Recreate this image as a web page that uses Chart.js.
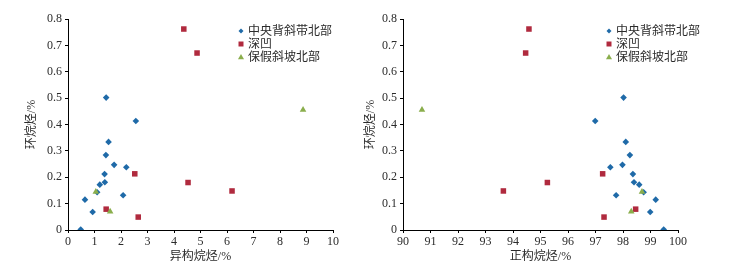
<!DOCTYPE html>
<html>
<head>
<meta charset="utf-8">
<script src="https://cdn.jsdelivr.net/npm/chart.js@4.4.0/dist/chart.umd.min.js"></script>
<style>
  html, body { margin: 0; padding: 0; background: #fff; }
  #wrap { position: relative; width: 747px; height: 274px; overflow: hidden; }
  #c1 { position: absolute; left: 0; top: 0; }
  #c2 { position: absolute; left: 355px; top: 0; }
</style>
</head>
<body>
<div id="wrap">
  <canvas id="c1" width="370" height="274"></canvas>
  <canvas id="c2" width="392" height="274"></canvas>
</div>
<script>
// series names
const seriesNames = ['中央背斜带北部', '深凹', '保假斜坡北部'];

// 中央背斜带北部
const centralIso = [0.48, 0.64, 0.93, 1.1, 1.2, 1.39, 1.38, 1.43, 1.44, 1.53, 1.74, 2.2, 2.08, 2.56];
const centralNormal = [99.48, 99.19, 98.99, 98.75, 98.59, 98.4, 98.36, 98.25, 98.02, 98.1, 97.98, 97.54, 97.75, 96.99];
const centralCyclo = [0.002, 0.115, 0.068, 0.143, 0.172, 0.181, 0.212, 0.284, 0.502, 0.334, 0.247, 0.238, 0.132, 0.413];

// 深凹
const deepIso = [4.37, 4.87, 2.52, 4.53, 6.19, 1.44, 2.65];
const deepNormal = [94.58, 94.46, 97.26, 95.25, 93.65, 98.46, 97.31];
const deepCyclo = [0.762, 0.671, 0.213, 0.18, 0.148, 0.079, 0.049];

// 保假斜坡北部
const slopeIso = [1.05, 1.59, 8.87];
const slopeNormal = [98.69, 98.3, 90.69];
const slopeCyclo = [0.145, 0.07, 0.456];

const FONT = '"Liberation Serif", "Noto Sans CJK SC", serif';
const TEXT = '#2b2b2b';
const BLUE = '#1f6aa8';
const RED = '#b02a3e';
const GREEN = '#8aae4c';

function pts(xs, ys) {
  return xs.map((x, i) => ({ x: x, y: ys[i] }));
}

// draws the legend inside the plot, like the original figure
const insideLegend = {
  id: 'insideLegend',
  afterDraw(chart, args, opts) {
    const ctx = chart.ctx;
    ctx.save();
    ctx.font = '12px ' + FONT;
    ctx.textBaseline = 'middle';
    ctx.textAlign = 'left';
    seriesNames.forEach((name, i) => {
      const ds = chart.data.datasets.find(d => d.label === name);
      const y = opts.y + i * opts.row;
      const x = opts.x;
      ctx.fillStyle = ds.backgroundColor;
      ctx.beginPath();
      if (ds.pointStyle === 'rectRot') {
        ctx.moveTo(x, y - 2.5); ctx.lineTo(x + 2.5, y); ctx.lineTo(x, y + 2.5); ctx.lineTo(x - 2.5, y);
      } else if (ds.pointStyle === 'rect') {
        ctx.rect(x - 2.5, y - 2.5, 5, 5);
      } else {
        ctx.moveTo(x, y - 3); ctx.lineTo(x + 3, y + 2.2); ctx.lineTo(x - 3, y + 2.2);
      }
      ctx.closePath();
      ctx.fill();
      ctx.fillStyle = TEXT;
      ctx.fillText(name, x + 7, y + 0.5);
    });
    ctx.restore();
  }
};

function makeChart(id, xKey, xMin, xMax, xTitle, yAxisW, titlePad, padRight, legendX) {
  const xs = xKey === 'iso'
    ? [centralIso, deepIso, slopeIso]
    : [centralNormal, deepNormal, slopeNormal];
  return new Chart(document.getElementById(id), {
    type: 'scatter',
    data: {
      datasets: [
        { label: seriesNames[0], data: pts(xs[0], centralCyclo), pointStyle: 'rectRot', pointRadius: 3.3,
          backgroundColor: BLUE, borderColor: BLUE, borderWidth: 0, order: 2 },
        { label: seriesNames[1], data: pts(xs[1], deepCyclo), pointStyle: 'rect', pointRadius: 3.9,
          backgroundColor: RED, borderColor: RED, borderWidth: 0, order: 1 },
        { label: seriesNames[2], data: pts(xs[2], slopeCyclo), pointStyle: 'triangle', pointRadius: 3.8,
          backgroundColor: GREEN, borderColor: GREEN, borderWidth: 0, order: 0 }
      ]
    },
    options: {
      responsive: false,
      animation: false,
      layout: { padding: { left: 0, top: 19, right: padRight, bottom: 0 } },
      plugins: {
        legend: { display: false },
        tooltip: { enabled: false },
        insideLegend: { x: legendX, y: 31, row: 13 }
      },
      scales: {
        x: {
          type: 'linear',
          min: xMin, max: xMax,
          afterFit: s => { s.height = 44; },
          ticks: { stepSize: 1, color: TEXT, font: { family: FONT, size: 12 }, padding: 2, maxRotation: 0 },
          grid: { display: true, drawOnChartArea: false, tickLength: 3, color: '#000', tickColor: '#000' },
          border: { color: '#000', width: 1 },
          title: { display: true, text: xTitle, color: TEXT, font: { family: FONT, size: 12 }, padding: { top: 0, bottom: 10 } }
        },
        y: {
          min: 0, max: 0.8,
          afterFit: s => { s.width = yAxisW; },
          ticks: { stepSize: 0.1, color: TEXT, font: { family: FONT, size: 12 }, padding: 3 },
          grid: { display: true, drawOnChartArea: false, tickLength: 3, color: '#000', tickColor: '#000' },
          border: { color: '#000', width: 1 },
          title: { display: true, text: '环烷烃/%', color: TEXT, font: { family: FONT, size: 12 }, padding: { top: titlePad, bottom: 0 } }
        }
      }
    },
    plugins: [insideLegend]
  });
}

makeChart('c1', 'iso', 0, 10, '异构烷烃/%', 68, 25, 37, 241);
makeChart('c2', 'normal', 90, 100, '正构烷烃/%', 48, 9, 69, 254);
</script>
</body>
</html>
